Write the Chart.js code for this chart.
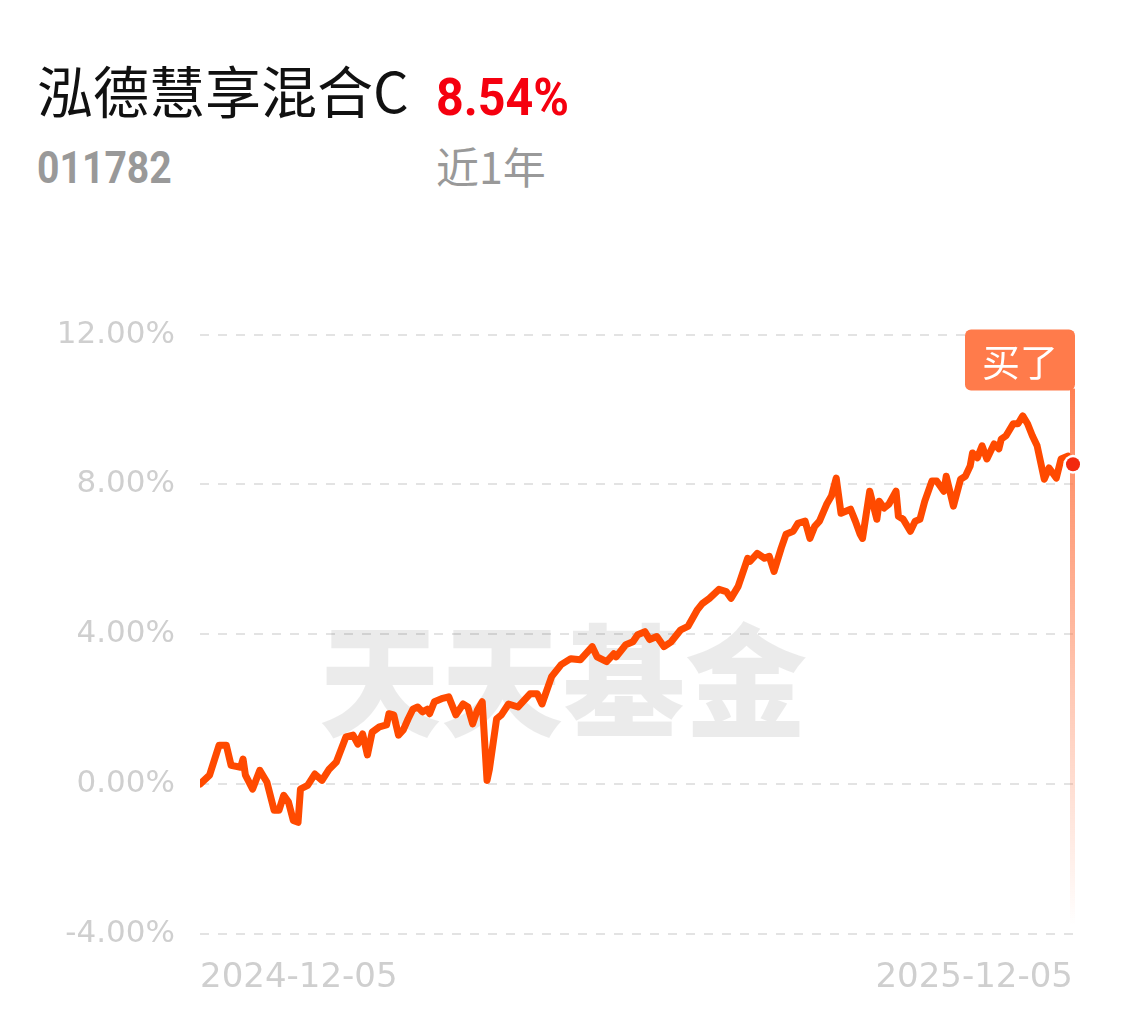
<!DOCTYPE html>
<html>
<head>
    <meta charset="UTF-8">
    <title>泓德慧享混合C</title>
    <script src="https://cdn.jsdelivr.net/npm/chart.js"></script>
    <style>
        body { margin: 0; background: #fff; width: 1135px; height: 1022px; position: relative; overflow: hidden; }
        .t { position: absolute; white-space: nowrap; }
        #name { left: 37px; top: 61px; font: 400 56px "Noto Sans CJK SC", sans-serif; color: #111; line-height: 1; }
        #rate { left: 436px; top: 72px; font: 700 52px Roboto, sans-serif; color: #f5000f; line-height: 1; transform: scaleX(0.93); transform-origin: left; }
        #code { left: 37px; top: 146px; font: 700 44px Roboto, sans-serif; color: #999; line-height: 1; transform: scaleX(0.89); transform-origin: left; }
        #period { left: 436px; top: 144px; font: 400 43px "Noto Sans CJK SC", sans-serif; color: #999; line-height: 1; }
        #wrap { position: absolute; left: 0; top: 291px; width: 1135px; height: 731px; }
    </style>
</head>
<body>
    <div class="t" id="name">泓德慧享混合C</div>
    <div class="t" id="rate">8.54%</div>
    <div class="t" id="code">011782</div>
    <div class="t" id="period">近1年</div>
    <div id="wrap"><canvas id="navChart"></canvas></div>

    <script>
        // days since 2024-12-05, and cumulative return (%)
        const days = [0, 4, 8, 11, 13, 17, 18, 19, 22, 25, 28, 31, 33, 35, 37, 39, 41, 42, 45, 48,
            51, 54, 57, 61, 64, 66, 68, 70, 72, 75, 78, 79, 81, 83, 85, 87, 89, 91, 93, 95,
            96, 98, 101, 104, 107, 110, 112, 114, 116, 118, 120, 121, 124, 126, 129, 133, 138, 141, 143, 147,
            151, 155, 159, 164, 166, 170, 173, 174, 178, 181, 183, 186, 188, 191, 194, 197, 201, 204, 208, 210,
            213, 217, 220, 222, 225, 229, 230, 233, 236, 238, 240, 243, 245, 248, 250, 253, 255, 257, 259, 262,
            264, 266, 268, 272, 274, 276, 277, 280, 283, 284, 286, 288, 291, 292, 294, 297, 299, 301, 303, 306,
            308, 311, 312, 315, 318, 320, 322, 323, 325, 327, 329, 332, 334, 335, 337, 340, 342, 344, 346, 348,
            350, 353, 355, 358, 360, 363, 365];
        const returns = [0.00, 0.24, 1.04, 1.04, 0.50, 0.45, 0.67, 0.24, -0.13, 0.37, 0.05, -0.70, -0.70, -0.30, -0.48, -0.97, -1.02, -0.13, -0.03, 0.27,
            0.10, 0.40, 0.59, 1.26, 1.31, 1.07, 1.34, 0.78, 1.39, 1.53, 1.58, 1.88, 1.85, 1.31, 1.45, 1.74, 2.00, 2.06, 1.93, 2.00,
            1.88, 2.20, 2.28, 2.33, 1.85, 2.14, 2.06, 1.61, 1.98, 2.20, 0.10, 0.40, 1.74, 1.85, 2.14, 2.06, 2.41, 2.41, 2.14, 2.87,
            3.19, 3.35, 3.32, 3.67, 3.40, 3.27, 3.48, 3.40, 3.72, 3.80, 3.99, 4.07, 3.86, 3.94, 3.67, 3.80, 4.12, 4.21, 4.66, 4.82,
            4.96, 5.20, 5.14, 4.96, 5.28, 6.03, 5.95, 6.16, 6.03, 6.08, 5.68, 6.30, 6.67, 6.75, 6.96, 7.02, 6.56, 6.88, 7.02, 7.47,
            7.69, 8.17, 7.23, 7.34, 7.02, 6.67, 6.56, 7.82, 7.07, 7.55, 7.37, 7.47, 7.82, 7.15, 7.07, 6.75, 7.02, 7.07, 7.55, 8.09,
            8.09, 7.82, 8.22, 7.42, 8.14, 8.22, 8.49, 8.84, 8.71, 9.03, 8.68, 9.08, 8.95, 9.21, 9.30, 9.62, 9.62, 9.83, 9.62, 9.30,
            9.03, 8.14, 8.44, 8.17, 8.68, 8.76, 8.54];
        const dateLabels = ['2024-12-05', '2025-12-05'];
        const yTicks = [-4, 0, 4, 8, 12];

        const last = returns.length - 1;

        // watermark behind the line
        const watermark = {
            id: 'watermark',
            beforeDatasetsDraw(chart) {
                const c = chart.ctx;
                c.save();
                c.font = '900 122px "Noto Sans CJK SC"';
                c.fillStyle = 'rgba(0,0,0,0.08)';
                c.textAlign = 'center';
                c.textBaseline = 'middle';
                c.fillText('天天基金', 563, 390);
                c.restore();
            }
        };

        // "买了" tag with fading line at the last point
        const buyTag = {
            id: 'buyTag',
            afterDatasetsDraw(chart) {
                const c = chart.ctx;
                const area = chart.chartArea;
                const x = chart.scales.x.getPixelForValue(days[last]);
                const top = area.top - 5;
                const boxH = 61, boxW = 110;
                const lineBottom = area.bottom - 8;

                const g = c.createLinearGradient(0, top + boxH, 0, lineBottom);
                g.addColorStop(0, 'rgba(255,122,74,0.95)');
                g.addColorStop(1, 'rgba(255,122,74,0)');
                c.save();
                c.fillStyle = g;
                c.fillRect(x - 3, top + boxH - 2, 5, lineBottom - top - boxH);

                c.fillStyle = '#ff7b4b';
                c.beginPath();
                c.roundRect(x - boxW + 2, top, boxW, boxH, 6);
                c.fill();
                c.fillStyle = '#fff';
                c.font = '400 38px "Noto Sans CJK SC"';
                c.textAlign = 'center';
                c.textBaseline = 'middle';
                c.fillText('买了', x - boxW / 2 + 2, top + boxH / 2 + 1);

                // end dot
                const p = chart.getDatasetMeta(0).data[last];
                c.beginPath();
                c.arc(p.x, p.y, 9.5, 0, Math.PI * 2);
                c.fillStyle = '#fff';
                c.fill();
                c.beginPath();
                c.arc(p.x, p.y, 7, 0, Math.PI * 2);
                c.fillStyle = '#f2290f';
                c.fill();
                c.restore();
            }
        };

        new Chart(document.getElementById('navChart'), {
            type: 'line',
            data: {
                datasets: [{
                    data: days.map((d, i) => ({ x: d, y: returns[i] })),
                    borderColor: '#ff4a00',
                    borderWidth: 7,
                    pointRadius: 0,
                    tension: 0,
                    borderJoinStyle: 'round',
                    borderCapStyle: 'round'
                }]
            },
            options: {
                responsive: true,
                maintainAspectRatio: false,
                animation: false,
                events: [],
                layout: { padding: { top: 25, right: 62, left: 0, bottom: 0 } },
                plugins: { legend: { display: false }, tooltip: { enabled: false } },
                scales: {
                    x: {
                        type: 'linear',
                        min: 0,
                        max: 365,
                        afterBuildTicks: axis => { axis.ticks = [{ value: 0 }, { value: 365 }]; },
                        afterFit: axis => { axis.height = 88; },
                        grid: { display: false, drawTicks: false },
                        border: { display: false },
                        ticks: {
                            align: 'inner',
                            maxRotation: 0,
                            padding: 24,
                            color: '#cfcfcf',
                            font: { family: 'DejaVu Sans', size: 34 },
                            callback: v => v === 0 ? dateLabels[0] : dateLabels[1]
                        }
                    },
                    y: {
                        min: -4,
                        max: 12,
                        afterBuildTicks: axis => { axis.ticks = yTicks.map(v => ({ value: v })); },
                        afterFit: axis => { axis.width = 200; },
                        grid: {
                            color: '#e3e3e3',
                            lineWidth: 2,
                            drawTicks: false
                        },
                        border: { display: false, dash: [9, 9] },
                        ticks: {
                            padding: 25,
                            color: '#cfcfcf',
                            font: { family: 'DejaVu Sans', size: 31 },
                            callback: v => v.toFixed(2) + '%'
                        }
                    }
                }
            },
            plugins: [watermark, buyTag]
        });
    </script>
</body>
</html>
